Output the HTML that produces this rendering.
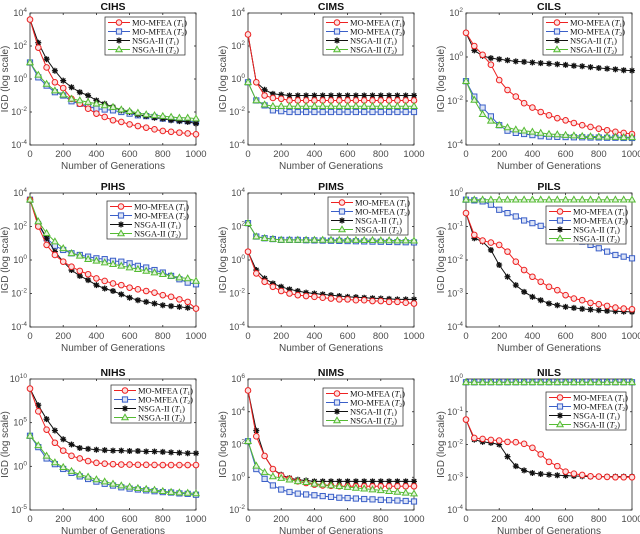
<!DOCTYPE html>
<html><head><meta charset="utf-8"><style>
body{margin:0;background:#fff;width:640px;height:534px;overflow:hidden}
svg{display:block}
text{font-family:"Liberation Sans",sans-serif;fill:#4a4a4a}
text.ttl{fill:#111}
.lg text{font-family:"Liberation Serif",serif;font-size:8.5px;fill:#111}
</style></head><body>
<svg id="chart" width="640" height="534" viewBox="0 0 640 534" xmlns="http://www.w3.org/2000/svg"></svg>
<script>
// generations (x values)
const generations = [0,50,100,150,200,250,300,350,400,450,500,550,600,650,700,750,800,850,900,950,1000];
const xTickLabels = [0,200,400,600,800,1000];
const seriesNames = ["MO-MFEA", "MO-MFEA", "NSGA-II", "NSGA-II"];
const seriesTasks = ["1","2","1","2"];
// log10(IGD) values per panel: red=MO-MFEA T1, blue=MO-MFEA T2, black=NSGA-II T1, green=NSGA-II T2
const cihsRed   = [3.6,1.9,0.7,-0.2,-0.55,-1.2,-1.5,-1.8,-2.1,-2.3,-2.5,-2.6,-2.75,-2.85,-2.95,-3.05,-3.15,-3.2,-3.25,-3.3,-3.35];
const cihsBlue  = [1.0,0.1,-0.4,-0.8,-1.0,-1.35,-1.5,-1.65,-1.8,-1.85,-1.9,-2.0,-2.1,-2.2,-2.25,-2.3,-2.4,-2.45,-2.5,-2.55,-2.6];
const cihsBlack = [3.6,2.2,1.2,0.5,-0.1,-0.5,-0.8,-1.0,-1.3,-1.5,-1.7,-1.9,-2.0,-2.15,-2.25,-2.35,-2.4,-2.5,-2.55,-2.6,-2.7];
const cihsGreen = [1.0,0.25,-0.3,-0.7,-0.95,-1.2,-1.3,-1.4,-1.5,-1.6,-1.7,-1.85,-1.95,-2.05,-2.15,-2.2,-2.25,-2.3,-2.35,-2.35,-2.4];
const cimsRed   = [2.7,-0.2,-1.0,-1.15,-1.2,-1.3,-1.3,-1.3,-1.3,-1.3,-1.3,-1.3,-1.3,-1.3,-1.3,-1.3,-1.3,-1.3,-1.3,-1.3,-1.3];
const cimsBlue  = [-0.2,-1.3,-1.6,-1.9,-1.95,-2.0,-2.0,-2.0,-2.0,-2.0,-2.0,-2.0,-2.0,-2.0,-2.0,-2.0,-2.0,-2.0,-2.0,-2.0,-2.0];
const cimsBlack = [2.7,-0.2,-0.65,-0.9,-0.95,-1.0,-1.0,-1.0,-1.0,-1.0,-1.0,-1.0,-1.0,-1.0,-1.0,-1.0,-1.0,-1.0,-1.0,-1.0,-1.0];
const cimsGreen = [-0.2,-1.3,-1.55,-1.65,-1.65,-1.65,-1.65,-1.65,-1.65,-1.65,-1.65,-1.65,-1.65,-1.65,-1.65,-1.65,-1.65,-1.65,-1.65,-1.65,-1.65];
const cilsRed   = [1.1,0.5,0.1,-0.35,-1.05,-1.5,-1.8,-2.1,-2.3,-2.5,-2.65,-2.78,-2.88,-3.0,-3.1,-3.18,-3.26,-3.33,-3.4,-3.45,-3.5];
const cilsBlue  = [-1.1,-1.8,-2.3,-2.7,-3.1,-3.35,-3.45,-3.5,-3.55,-3.6,-3.62,-3.63,-3.64,-3.65,-3.65,-3.66,-3.66,-3.67,-3.67,-3.68,-3.68];
const cilsBlack = [1.1,0.3,0.05,-0.05,-0.1,-0.15,-0.2,-0.22,-0.25,-0.28,-0.3,-0.33,-0.36,-0.4,-0.42,-0.46,-0.5,-0.53,-0.56,-0.6,-0.62];
const cilsGreen = [-1.1,-1.95,-2.6,-2.9,-3.1,-3.2,-3.3,-3.35,-3.4,-3.45,-3.5,-3.52,-3.55,-3.57,-3.6,-3.61,-3.62,-3.63,-3.64,-3.65,-3.65];
const pihsRed   = [3.6,2.0,0.9,0.3,-0.1,-0.4,-0.65,-0.85,-1.1,-1.25,-1.4,-1.5,-1.65,-1.75,-1.85,-1.95,-2.1,-2.2,-2.35,-2.5,-2.9];
const pihsBlue  = [3.6,2.1,1.3,0.85,0.6,0.4,0.3,0.2,0.1,0.05,-0.05,-0.1,-0.2,-0.35,-0.45,-0.6,-0.75,-0.95,-1.15,-1.35,-1.45];
const pihsBlack = [3.6,2.2,1.3,0.5,-0.1,-0.6,-0.95,-1.2,-1.5,-1.7,-1.85,-2.05,-2.25,-2.4,-2.5,-2.6,-2.7,-2.75,-2.8,-2.85,-2.9];
const pihsGreen = [3.6,2.3,1.6,1.1,0.7,0.4,0.25,0.05,-0.05,-0.15,-0.25,-0.35,-0.45,-0.55,-0.65,-0.75,-0.85,-0.95,-1.05,-1.1,-1.25];
const pimsRed   = [0.5,-0.8,-1.3,-1.6,-1.85,-2.0,-2.1,-2.15,-2.2,-2.25,-2.3,-2.35,-2.35,-2.4,-2.4,-2.45,-2.45,-2.5,-2.5,-2.55,-2.6];
const pimsBlue  = [2.2,1.4,1.3,1.25,1.2,1.2,1.2,1.18,1.17,1.16,1.15,1.14,1.13,1.12,1.11,1.1,1.09,1.08,1.07,1.06,1.05];
const pimsBlack = [0.5,-0.6,-1.1,-1.4,-1.6,-1.75,-1.85,-1.95,-2.0,-2.05,-2.1,-2.15,-2.2,-2.22,-2.25,-2.28,-2.3,-2.32,-2.35,-2.35,-2.35];
const pimsGreen = [2.2,1.4,1.3,1.25,1.2,1.2,1.2,1.2,1.2,1.2,1.2,1.2,1.2,1.19,1.18,1.18,1.17,1.17,1.16,1.16,1.15];
const pilsRed   = [-0.6,-1.25,-1.42,-1.48,-1.55,-1.75,-2.05,-2.3,-2.5,-2.65,-2.8,-2.9,-3.05,-3.15,-3.2,-3.28,-3.32,-3.37,-3.42,-3.45,-3.47];
const pilsBlue  = [-0.2,-0.22,-0.25,-0.35,-0.5,-0.6,-0.7,-0.82,-0.9,-0.98,-1.05,-1.15,-1.25,-1.35,-1.45,-1.55,-1.65,-1.75,-1.85,-1.9,-1.95];
const pilsBlack = [-0.6,-1.35,-1.45,-1.7,-2.15,-2.5,-2.75,-2.95,-3.1,-3.2,-3.3,-3.35,-3.4,-3.43,-3.46,-3.48,-3.5,-3.52,-3.53,-3.54,-3.55];
const pilsGreen = [-0.2,-0.2,-0.2,-0.2,-0.2,-0.2,-0.2,-0.2,-0.2,-0.2,-0.2,-0.2,-0.2,-0.2,-0.2,-0.2,-0.2,-0.2,-0.2,-0.2,-0.2];
const nihsRed   = [8.9,6.3,4.2,2.7,1.8,1.2,0.9,0.6,0.4,0.3,0.25,0.2,0.2,0.18,0.17,0.16,0.15,0.15,0.15,0.15,0.15];
const nihsBlue  = [3.5,2.2,0.9,0.25,-0.3,-0.75,-1.15,-1.45,-1.75,-2.0,-2.2,-2.4,-2.55,-2.65,-2.75,-2.85,-2.95,-3.0,-3.1,-3.15,-3.25];
const nihsBlack = [8.9,7.0,5.4,4.1,3.1,2.5,2.1,2.0,1.9,1.85,1.8,1.8,1.75,1.75,1.7,1.7,1.65,1.6,1.55,1.5,1.5];
const nihsGreen = [3.5,2.4,1.2,0.45,-0.1,-0.55,-0.95,-1.2,-1.5,-1.75,-2.0,-2.2,-2.35,-2.5,-2.6,-2.7,-2.85,-2.95,-3.0,-3.05,-3.1];
const nimsRed   = [5.3,2.5,1.3,0.5,0.1,-0.1,-0.25,-0.35,-0.45,-0.5,-0.52,-0.55,-0.55,-0.55,-0.55,-0.55,-0.55,-0.55,-0.55,-0.55,-0.55];
const nimsBlue  = [2.2,0.5,-0.1,-0.5,-0.75,-0.9,-1.0,-1.05,-1.1,-1.15,-1.2,-1.25,-1.27,-1.3,-1.33,-1.35,-1.38,-1.4,-1.42,-1.45,-1.48];
const nimsBlack = [5.3,2.85,1.3,0.5,0.15,-0.05,-0.15,-0.2,-0.25,-0.25,-0.25,-0.25,-0.25,-0.25,-0.25,-0.25,-0.25,-0.25,-0.25,-0.25,-0.25];
const nimsGreen = [2.2,0.7,0.3,0.05,-0.05,-0.15,-0.25,-0.3,-0.4,-0.45,-0.5,-0.55,-0.6,-0.65,-0.7,-0.75,-0.8,-0.85,-0.9,-0.95,-1.0];
const nilsRed   = [-1.24,-1.8,-1.83,-1.86,-1.88,-1.92,-1.93,-1.98,-2.1,-2.3,-2.53,-2.66,-2.83,-2.89,-2.93,-2.97,-2.98,-2.99,-3.0,-3.0,-3.0];
const nilsBlue  = [-0.1,-0.1,-0.1,-0.1,-0.1,-0.1,-0.1,-0.1,-0.1,-0.1,-0.1,-0.1,-0.1,-0.1,-0.1,-0.1,-0.1,-0.1,-0.1,-0.1,-0.1];
const nilsBlack = [-1.24,-1.85,-1.92,-1.95,-2.0,-2.37,-2.66,-2.79,-2.87,-2.9,-2.92,-2.94,-2.95,-2.96,-2.97,-2.98,-2.98,-2.98,-2.98,-2.98,-2.98];
const nilsGreen = [-0.1,-0.1,-0.1,-0.1,-0.1,-0.1,-0.1,-0.1,-0.1,-0.1,-0.1,-0.1,-0.1,-0.1,-0.1,-0.1,-0.1,-0.1,-0.1,-0.1,-0.1];
const panelTitles = ["CIHS","CIMS","CILS","PIHS","PIMS","PILS","NIHS","NIMS","NILS"];
const yTickExps = [[-4,-2,0,2,4],[-4,-2,0,2,4],[-4,-2,0,2],[-4,-2,0,2,4],[-4,-2,0,2,4],[-4,-3,-2,-1,0],[-5,0,5,10],[-2,0,2,4,6],[-4,-3,-2,-1,0]];
const panelData = [
 [cihsRed,cihsBlue,cihsBlack,cihsGreen],[cimsRed,cimsBlue,cimsBlack,cimsGreen],[cilsRed,cilsBlue,cilsBlack,cilsGreen],
 [pihsRed,pihsBlue,pihsBlack,pihsGreen],[pimsRed,pimsBlue,pimsBlack,pimsGreen],[pilsRed,pilsBlue,pilsBlack,pilsGreen],
 [nihsRed,nihsBlue,nihsBlack,nihsGreen],[nimsRed,nimsBlue,nimsBlack,nimsGreen],[nilsRed,nilsBlue,nilsBlack,nilsGreen]];

// layout (not data)
const colLeft=[30,248,466], axW=166;
const rowTop=[13,193,379], rowH=[132,134,131];
const legendPos=[[105,17],[323,17],[543,17],[107,201],[328,197],[546,206],[111,385],[323,388],[546,392]];
const colors=["#ee2222","#3a5fc8","#111111","#55bb33"];
const fills=["#fbe0e0","#dde4f6","none","#e3f3dc"];
const markerKinds=["circle","square","star","triangle"];
const NS="http://www.w3.org/2000/svg";
const svg=document.getElementById("chart");
function mk(tag,attrs,parent){const e=document.createElementNS(NS,tag);for(const k in attrs)e.setAttribute(k,attrs[k]);(parent||svg).appendChild(e);return e;}
function marker(kind,x,y,c,f,g){
  if(kind==="circle") return mk("circle",{cx:x,cy:y,r:2.8,fill:f,stroke:c,"stroke-width":1},g);
  if(kind==="square") return mk("rect",{x:x-2.6,y:y-2.6,width:5.2,height:5.2,fill:f,stroke:c,"stroke-width":1},g);
  if(kind==="triangle") return mk("path",{d:`M${x} ${y-3.3}L${x+3.2} ${y+2.3}L${x-3.2} ${y+2.3}Z`,fill:f,stroke:c,"stroke-width":1},g);
  return mk("path",{d:`M${x-3} ${y}H${x+3}M${x} ${y-3}V${y+3}M${x-2.2} ${y-2.2}L${x+2.2} ${y+2.2}M${x-2.2} ${y+2.2}L${x+2.2} ${y-2.2}`,stroke:c,"stroke-width":1.3,fill:"none"},g);
}
for(let p=0;p<9;p++){
  const col=p%3,row=Math.floor(p/3);
  const L=colLeft[col],T=rowTop[row],H=rowH[row];
  const exps=yTickExps[p],ymin=exps[0],ymax=exps[exps.length-1];
  const xs=v=>L+v/1000*axW;
  const ys=v=>T+H-(v-ymin)/(ymax-ymin)*H;
  const g=mk("g",{});
  
  
  const box=mk("rect",{x:L,y:T,width:axW,height:H,fill:"#fff",stroke:"#262626","stroke-width":0.8},g);
  
  
  const t=mk("text",{x:L+axW/2,y:T-3,"text-anchor":"middle","font-size":"10.5","font-weight":"bold",class:"ttl"},g);
  t.textContent=panelTitles[p];
  
  
  xTickLabels.forEach(v=>{
    mk("line",{x1:xs(v),x2:xs(v),y1:T+H,y2:T+H-2,stroke:"#262626","stroke-width":0.8},g);
    mk("line",{x1:xs(v),x2:xs(v),y1:T,y2:T+2,stroke:"#262626","stroke-width":0.8},g);
    const tl=mk("text",{x:xs(v),y:T+H+12,"text-anchor":"middle","font-size":"9.5"},g);
    tl.textContent=v;
    
    
  });
  exps.forEach(e=>{
    mk("line",{x1:L,x2:L+2,y1:ys(e),y2:ys(e),stroke:"#262626","stroke-width":0.8},g);
    mk("line",{x1:L+axW,x2:L+axW-2,y1:ys(e),y2:ys(e),stroke:"#262626","stroke-width":0.8},g);
    const tl=mk("text",{x:L-3,y:ys(e)+3,"text-anchor":"end","font-size":"9"},g);
    tl.innerHTML='10<tspan dy="-4" font-size="6.5">'+e+'</tspan>';
    
    
  });
  const xt=mk("text",{x:L+axW/2,y:T+H+24,"text-anchor":"middle","font-size":"10"},g);
  xt.textContent="Number of Generations";
  
  
  const yx=L-22,yy=T+H/2;
  const yt=mk("text",{x:yx,y:yy,"text-anchor":"middle","font-size":"10",transform:`rotate(-90 ${yx} ${yy})`},g);
  yt.textContent="IGD (log scale)";
  
  
  [1,2,0,3].forEach(s=>{
    const vals=panelData[p][s];
    const sg=mk("g",{},g);
    
    
    mk("polyline",{points:vals.map((v,i)=>xs(generations[i])+","+ys(v)).join(" "),fill:"none",stroke:colors[s],"stroke-width":1},sg);
    vals.forEach((v,i)=>{const m=marker(markerKinds[s],xs(generations[i]),ys(v),colors[s],fills[s],sg);
      
      });
  });
  const [lx,ly]=legendPos[p];
  const lg=mk("g",{class:"lg"},g);
  
  
  mk("rect",{x:lx,y:ly,width:80,height:38,fill:"#fff",stroke:"#262626","stroke-width":0.7},lg);
  for(let s=0;s<4;s++){
    const ey=ly+5.5+s*9;
    const eg=mk("g",{},lg);
    
    
    mk("line",{x1:lx+3,x2:lx+25,y1:ey,y2:ey,stroke:colors[s],"stroke-width":1},eg);
    marker(markerKinds[s],lx+14,ey,colors[s],fills[s],eg);
    const tx=mk("text",{x:lx+27,y:ey+3},eg);
    tx.innerHTML=seriesNames[s]+' (<tspan font-style="italic">T</tspan><tspan font-size="5.5" dy="1.5">'+seriesTasks[s]+'</tspan><tspan dy="-1.5">)</tspan>';
  }
}
</script>
</body></html>
